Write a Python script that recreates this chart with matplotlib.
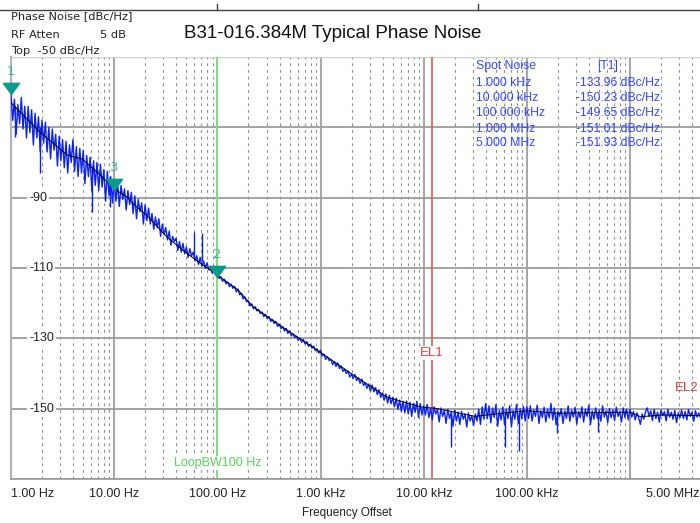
import numpy as np
import matplotlib
matplotlib.use("Agg")
import matplotlib.pyplot as plt
from matplotlib.transforms import ScaledTranslation
from matplotlib.lines import Line2D

# ---------------- data ----------------
# measured trace, 60 points per decade from 1 Hz to 5 MHz (log sweep)
trace_db = [
    # 1 Hz .. 10 Hz
    -60.5, -68, -62, -72, -63.5, -69, -61.5, -70.5, -64, -73,
    -64, -71.5, -65, -75, -66, -73, -67, -77, -68, -74.5,
    -68.5, -77, -70, -79, -70.5, -76.5, -72, -81, -72.5, -79.5,
    -73.5, -81.5, -74, -83, -75, -80, -73.5, -82.5, -75.5, -84,
    -76, -83, -76.5, -86, -78, -84, -78.5, -88, -79.5, -86.5,
    -80, -88, -80.5, -87, -82, -91, -82.5, -89.5, -84, -91.5,
    # 10 Hz .. 100 Hz
    -85, -91, -86, -92.5, -86.5, -90.5, -87.5, -93.5, -88, -92,
    -88.5, -94.5, -89.5, -96, -90.5, -94, -91.5, -97.5, -92, -96.5,
    -93, -97.5, -94.5, -99, -95.5, -98.5, -96, -101, -97.5, -100.5,
    -98.5, -102, -99.5, -103.5, -101, -102.5, -101.5, -105, -102.5, -105.5,
    -103, -106, -104, -107, -104.5, -106.5, -105.5, -108, -106.5, -109,
    -107, -109.5, -108, -110, -108.5, -110.5, -110, -111.5, -110.5, -112,
    # 100 Hz .. 1 kHz
    -111.5, -113, -112.5, -113.8, -113.2, -114.5, -114, -115.3, -114.6, -115.8,
    -115.2, -116.8, -116, -117.6, -117.2, -118.8, -118.2, -119.6, -119.4, -120.8,
    -120.2, -121.6, -121, -122.2, -121.8, -123, -122.5, -123.8, -123.2, -124.4,
    -123.8, -125.2, -124.6, -125.8, -125.2, -126.6, -126, -127.2, -126.7, -127.9,
    -127.2, -128.6, -127.9, -129.3, -128.7, -129.8, -129.4, -130.6, -129.9, -131.1,
    -130.3, -131.6, -130.9, -132.3, -131.7, -132.8, -132.2, -133.5, -133, -134.2,
    # 1 kHz .. 10 kHz
    -133.4, -135, -134.5, -136, -135.2, -136.3, -136, -137.5, -136.6, -138,
    -137, -138.6, -137.9, -139.4, -138.8, -140, -139.3, -141, -140.2, -141.4,
    -140.3, -142, -141.2, -142.8, -141.6, -143.4, -142.7, -144.2, -143, -145,
    -143.3, -145.2, -144, -146, -144.6, -146.8, -145.6, -147.6, -145.8, -148.4,
    -146.2, -148.6, -146.8, -149.5, -147, -150.2, -147.6, -150.8, -147.9, -151.2,
    -147.8, -151.5, -148.2, -152.2, -148.5, -151, -147.9, -152.5, -148.6, -151.8,
    # 10 kHz .. 100 kHz
    -149.2, -151.8, -148.8, -152.5, -150, -153.2, -149.5, -151.5, -150.2, -153.8,
    -149.8, -152.2, -150.5, -154.2, -150.2, -152.8, -151, -155, -150.5, -153.5,
    -151, -154.5, -150.8, -153, -151.5, -155.2, -151.2, -153.5, -152, -154.8,
    -151.5, -153.5, -150.2, -154.5, -149.5, -153, -148.6, -152.8, -149.2, -154,
    -149.8, -152.5, -148.8, -155, -150.5, -153.2, -149.5, -154.5, -150.2, -152.8,
    -149.2, -155.2, -150.5, -153, -148.8, -154.2, -150, -152.8, -149.4, -153.5,
    # 100 kHz .. 1 MHz
    -149.5, -152.8, -149.2, -153.5, -150.4, -152.2, -149, -154.2, -150.6, -152.5,
    -149.6, -153.8, -150.2, -152.6, -148.5, -153.2, -149.8, -154.6, -150.8, -152.2,
    -150, -154.2, -150.6, -152.8, -149.2, -153.6, -150.4, -152.4, -149.6, -154.4,
    -150.8, -152.6, -149.5, -153.8, -150.2, -152.2, -149, -154.5, -150.6, -153,
    -149.8, -152.8, -150.4, -153.6, -149.2, -152.4, -150.6, -154, -150, -152.6,
    -150.4, -153.4, -149.6, -152.2, -150.8, -153.8, -149.8, -152.5, -150.2, -153.2,
    # 1 MHz .. 5 MHz
    -150.2, -152.4, -150.8, -153.2, -151.2, -152.6, -154.5, -151.5, -153, -150.8,
    -149.8, -152.2, -150.6, -153.4, -150.2, -152.8, -151, -153.8, -150.4, -152,
    -150.8, -153.5, -150.2, -152.4, -151, -153, -150.5, -154, -151.2, -152.6,
    -150.4, -152.8, -150.8, -153.2, -150.2, -152.2, -151, -153.6, -150.6, -152.4,
    -151.2, -152.6, -151,
]
trace_f = np.logspace(0, np.log10(5e6), len(trace_db))

# narrow spikes of the trace: frequency, top, bottom (dBc/Hz)
spike_f = [1.09, 1.9, 6.1, 9.1, 60, 71, 18200, 61700, 83000, 195000, 490000]
spike_top = [-64, -70, -81, -85, -99.8, -100, -151, -151, -151.5, -151, -151.5]
spike_bot = [-72.7, -83, -94, -92.6, -107, -108, -161, -161, -162, -157, -156.6]

# smoothed trace
smooth_f = [1, 1.9, 3.5, 4.9, 7.3, 10, 13.6, 15, 22, 32, 46, 68, 100, 158, 221,
            470, 1000, 2070, 4400, 9200, 13000, 20000, 31600, 50000, 100000,
            200000, 1e6, 1.26e6, 2e6, 5e6]
smooth_db = [-63, -71.3, -77.9, -79, -83.5, -87.5, -90, -91.5, -95.8, -101, -104.9,
             -108.6, -112, -116.2, -121, -127.6, -134, -140.4, -146.7, -149.5,
             -149.9, -151, -152.2, -151.5, -150.6, -151.3, -151, -152.3, -151.8, -152]

# markers
marker_names = ["1", "3", "2"]
marker_f = [1, 10, 100]
marker_db = [-60.5, -87.8, -112.5]

# spot noise table
spot_labels = ["1.000 kHz", "10.000 kHz", "100.000 kHz", "1.000 MHz", "5.000 MHz"]
spot_values = ["-133.96", "-150.23", "-149.65", "-151.01", "-151.93"]

# axis ticks
xtick_f = [1, 10, 100, 1e3, 1e4, 1e5, 1e6, 5e6]
xtick_labels = ["1.00 Hz", "10.00 Hz", "100.00 Hz", "1.00 kHz", "10.00 kHz",
                "100.00 kHz", "", "5.00 MHz"]
ytick_vals = [-90, -110, -130, -150]
ygrid_vals = [-170, -150, -130, -110, -90, -70, -50]

loop_bw_f = 100
el1_f = 12000
el2_f = 5e6

# ---------------- figure ----------------
W, H = 700, 523
fig = plt.figure(figsize=(W / 100, H / 100), dpi=100)
fig.patch.set_facecolor("white")

def px(x, y):
    return x / W, 1 - y / H

left, top, bottom = 11, 57, 479
right = 702.3
ax = fig.add_axes([left / W, 1 - bottom / H, (right - left) / W, (bottom - top) / H])
ax.set_xscale("log")
ax.set_xlim(1, 5e6)
ax.set_ylim(-170, -50)

for s in ["top", "right"]:
    ax.spines[s].set_visible(False)
ax.spines["left"].set_color("#b4b4b4")
ax.spines["left"].set_linewidth(1.6)
ax.spines["bottom"].set_color("#9a9a9a")
ax.spines["bottom"].set_linewidth(1.2)

# grid
ax.xaxis.set_major_locator(matplotlib.ticker.FixedLocator([1, 10, 100, 1e3, 1e4, 1e5, 1e6]))
ax.xaxis.set_minor_locator(matplotlib.ticker.LogLocator(base=10, subs=np.arange(2, 10), numticks=20))
ax.xaxis.set_major_formatter(matplotlib.ticker.NullFormatter())
ax.xaxis.set_minor_formatter(matplotlib.ticker.NullFormatter())
ax.set_yticks(ygrid_vals)
ax.set_yticklabels([])
ax.tick_params(which="both", length=0)
ax.grid(which="major", axis="x", color="#a8a8a8", lw=1.5, ls="-", zorder=0)
ax.grid(which="minor", axis="x", color="#8e8e8e", lw=0.8, ls=(0, (2.5, 3.5)), zorder=0)
ax.grid(which="major", axis="y", color="#9c9c9c", lw=1.3, ls="-", zorder=0)
ax.set_axisbelow(True)
ax.axhline(-50, color="#d0d0d0", lw=1.0, zorder=1)

# x tick labels
tick_font = dict(family="Liberation Sans", fontsize=9, color="#222222")
for f, lab in zip(xtick_f[:-1], xtick_labels[:-1]):
    if not lab:
        continue
    ha = "left" if f == xtick_f[0] else "center"
    ax.annotate(lab, xy=(f, 0), xycoords=("data", "axes fraction"),
                xytext=(0, -11), textcoords="offset points", ha=ha, va="center",
                annotation_clip=False, **tick_font)
# last label kept inside the picture
fig.text(*px(699, 494), xtick_labels[-1], ha="right", va="center", **tick_font)
fig.text(*px(346.5, 513), "Frequency Offset", ha="center", va="center",
         family="Liberation Sans", fontsize=8.5, color="#222222")

# y labels placed on grid lines
ytrans = ax.get_yaxis_transform() + ScaledTranslation(18 / 100, 0, fig.dpi_scale_trans)
for v in ytick_vals:
    ax.text(0, v, str(v), transform=ytrans, ha="left", va="center",
            family="Liberation Sans", fontsize=9, color="#222222", zorder=3,
            bbox=dict(facecolor="white", edgecolor="none", pad=1.5))

# vertical lines
ax.axvline(loop_bw_f, color="#7ee07e", lw=1.4, zorder=2)
ax.axvline(el1_f, color="#e05a5a", lw=1.2, zorder=2)
ax.axvline(el2_f, color="#e05a5a", lw=1.2, zorder=2)
ax.annotate("LoopBW100 Hz", xy=(loop_bw_f, -50 - (463 - top) / 3.517),
            ha="center", va="center", family="Liberation Sans", fontsize=9,
            color="#55d655", zorder=3,
            bbox=dict(facecolor="white", edgecolor="none", pad=0.5))
ax.text(el1_f, -50 - (353 - top) / 3.517, "EL1", ha="center", va="center",
        family="Liberation Sans", fontsize=9.5, color="#f03a30", zorder=3,
        bbox=dict(facecolor="white", edgecolor="none", pad=0.5))
fig.text(*px(699, 388), "EL2", ha="right", va="center",
         family="Liberation Sans", fontsize=9.5, color="#f03a30", zorder=3)

# traces
ax.plot(trace_f, trace_db, color="#0a22f5", lw=1.0, zorder=4)
ax.vlines(spike_f, spike_bot, spike_top, color="#0a22f5", lw=1.0, zorder=4)
ax.plot(smooth_f, smooth_db, color="black", lw=0.7, zorder=5)

# markers (triangle tip on the point)
tri = [(-8, 11), (8, 11), (0, 0), (-8, 11)]
for name, f, v in zip(marker_names, marker_f, marker_db):
    ax.plot([f], [v], marker=tri, markersize=16, color="#0a9a8c", mec="#0a9a8c",
            ls="none", zorder=6, clip_on=False)
    ax.annotate(name, xy=(f, v), xytext=(0, 16), textcoords="offset points",
                ha="center", va="center", fontsize=9.5, color="#3fb3a8",
                family="DejaVu Sans", zorder=6, annotation_clip=False)

# spot noise table
blue = "#3448ff"
tfont = dict(family="Liberation Sans", fontsize=8.8, color=blue, va="center")
fig.text(*px(476, 66.5), "Spot Noise", ha="left", **tfont)
fig.text(*px(597, 66.5), "[T1]", ha="left", **tfont)
row_y = [83, 98, 113, 128.5, 143.5]
for lab, val, yy in zip(spot_labels, spot_values, row_y):
    fig.text(*px(476, yy), lab, ha="left", **tfont)
    fig.text(*px(576, yy), val + " dBc/Hz", ha="left", **tfont)

# header texts
hfont = dict(family="DejaVu Sans", fontsize=8.2, color="#222222", va="center")
fig.text(*px(11, 16), "Phase Noise [dBc/Hz]", ha="left", **hfont)
fig.text(*px(11, 34.5), "RF Atten", ha="left", **hfont)
fig.text(*px(100, 34.5), "5 dB", ha="left", **hfont)
fig.text(*px(11, 51), "Top  -50 dBc/Hz", ha="left", **hfont)
fig.text(*px(332.5, 33), "B31-016.384M Typical Phase Noise", ha="center", va="center",
         family="Liberation Sans", fontsize=13.5, color="#111111")

# top frame line with small ticks
fig.add_artist(Line2D([0, 1], [1 - 10 / H, 1 - 10 / H], color="#444444", lw=1.0,
                      transform=fig.transFigure))
for xx in (217, 478):
    fig.add_artist(Line2D([xx / W, xx / W], [1 - 4 / H, 1 - 10 / H], color="#444444",
                          lw=1.0, transform=fig.transFigure))

fig.savefig("out.png", dpi=100, facecolor="white")
